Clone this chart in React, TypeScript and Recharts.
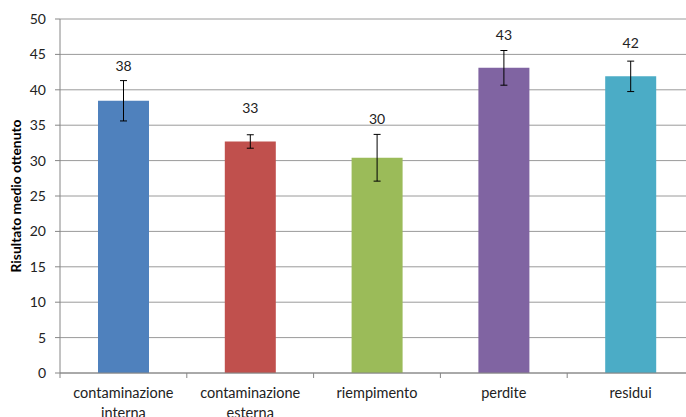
import React from 'react';
import { BarChart, Bar, XAxis, YAxis, CartesianGrid, ErrorBar, Cell, LabelList } from 'recharts';

const categories = ['contaminazione interna', 'contaminazione esterna', 'riempimento', 'perdite', 'residui'];
const means = [38.45, 32.7, 30.4, 43.1, 41.9];
const errors = [2.85, 0.95, 3.3, 2.45, 2.15];
const labels = ['38', '33', '30', '43', '42'];
const colors = ['#4F81BD', '#C0504D', '#9BBB59', '#8064A2', '#4BACC6'];
const yTicks = [0, 5, 10, 15, 20, 25, 30, 35, 40, 45, 50];

const data = categories.map((c, i) => ({ name: c, value: means[i], err: errors[i], label: labels[i] }));

const FONT = 'Lato, "Open Sans", sans-serif';

const XTick = (props: any) => {
  const { x, y, payload, width, visibleTicksCount } = props;
  const band = width / (visibleTicksCount || 5);
  const words = String(payload.value).split(' ');
  return (
    <g>
      <line x1={x - band / 2} x2={x - band / 2} y1={y - 8} y2={y - 3} stroke="#868686" strokeWidth={1} />
      <text x={x} y={y + 17} textAnchor="middle" fill="#222" fontSize={14.5} fontFamily={FONT}>
        {words.map((w: string, i: number) => (
          <tspan key={i} x={x} dy={i === 0 ? 0 : 20}>{w}</tspan>
        ))}
      </text>
    </g>
  );
};

const TopLabel = (props: any) => {
  const { x, y, width, height, value, index } = props;
  const pxPerUnit = height / means[index];
  const errTop = y - errors[index] * pxPerUnit;
  const center = Math.min(y - 33, errTop - 15);
  return (
    <text x={x + width / 2} y={center + 5} textAnchor="middle" fill="#222" fontSize={14} fontFamily={FONT}>
      {value}
    </text>
  );
};

export default function App() {
  return (
    <div style={{ position: 'absolute', left: 0, top: 0, width: 686, height: 417, overflow: 'hidden', background: '#fff' }}>
      <BarChart
        width={700}
        height={417}
        data={data}
        margin={{ top: 19, right: 6, left: 0, bottom: 0 }}
        barCategoryGap={0}
      >
        <CartesianGrid vertical={false} stroke="#9a9a9a" strokeWidth={1} />
        <XAxis
          dataKey="name"
          height={44}
          axisLine={{ stroke: '#868686' }}
          tickLine={false}
          tick={<XTick />}
          interval={0}
        />
        <YAxis
          width={60}
          domain={[0, 50]}
          ticks={yTicks}
          axisLine={{ stroke: '#868686' }}
          tickLine={{ stroke: '#868686' }}
          tickSize={5}
          tickMargin={9}
          tick={{ fill: '#222', fontSize: 14, fontFamily: FONT }}
          label={{
            value: 'Risultato medio ottenuto',
            angle: -90,
            position: 'insideLeft',
            dx: 11,
            dy: 0,
            style: { textAnchor: 'middle', fontWeight: 'bold', fontSize: 13.8, fill: '#000', fontFamily: FONT },
          }}
        />
        <Bar dataKey="value" barSize={51} isAnimationActive={false}>
          {data.map((d, i) => (
            <Cell key={i} fill={colors[i]} />
          ))}
          <ErrorBar dataKey="err" width={3.5} stroke="#000" strokeWidth={1} direction="y" />
          <LabelList dataKey="label" content={<TopLabel />} />
        </Bar>
      </BarChart>
    </div>
  );
}
